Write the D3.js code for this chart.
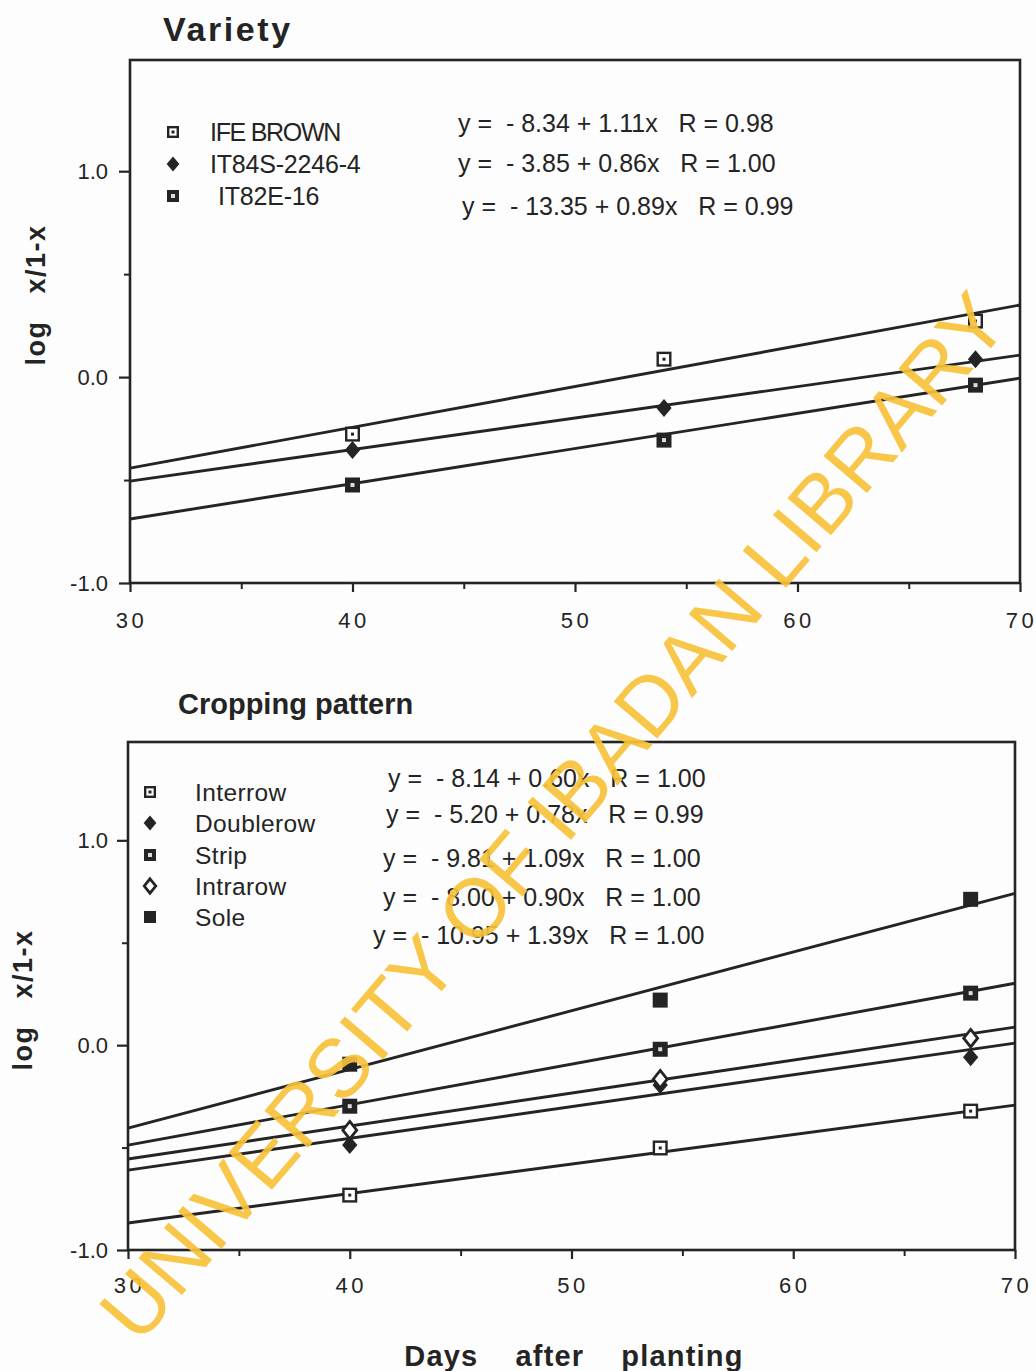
<!DOCTYPE html>
<html>
<head>
<meta charset="utf-8">
<script src="https://cdn.jsdelivr.net/npm/d3@7"></script>
<style>
  html, body { margin: 0; padding: 0; background: #fdfdfd; }
  svg { display: block; }
  text { font-family: "Liberation Sans", Arial, sans-serif; }
</style>
</head>
<body>
<svg id="chart" width="1036" height="1371"></svg>
<script>
// ---------- DATA ----------
const days = [40, 54, 68];
const fitX = [30, 70];
const xTicks = [30, 40, 50, 60, 70];
const xMinorTicks = [35, 45, 55, 65];
const yTicks = [-1.0, 0.0, 1.0];
const yMinorTicks = [-0.5, 0.5];

// Panel 1: Variety
const varietyNames = ["IFE BROWN", "IT84S-2246-4", "IT82E-16"];
const varietyMarkers = ["sqDot", "diamond", "sqHole"];
const ifeBrown = [-0.277, 0.087, 0.272];
const it84s = [-0.354, -0.150, 0.087];
const it82e = [-0.524, -0.306, -0.039];
const ifeBrownFit = [-0.442, 0.350];
const it84sFit = [-0.505, 0.107];
const it82eFit = [-0.689, -0.005];
const varietyEquations = [
  "y =  - 8.34 + 1.11x   R = 0.98",
  "y =  - 3.85 + 0.86x   R = 1.00",
  "y =  - 13.35 + 0.89x   R = 0.99"
];

// Panel 2: Cropping pattern
const croppingNames = ["Interrow", "Doublerow", "Strip", "Intrarow", "Sole"];
const croppingMarkers = ["sqDot", "diamond", "sqHole", "diamondOpen", "sqFill"];
const interrow = [-0.732, -0.502, -0.322];
const doublerow = [-0.488, -0.195, -0.059];
const strip = [-0.298, -0.020, 0.254];
const intrarow = [-0.415, -0.166, 0.034];
const sole = [-0.093, 0.220, 0.712];
const interrowFit = [-0.868, -0.293];
const doublerowFit = [-0.610, 0.010];
const stripFit = [-0.488, 0.302];
const intrarowFit = [-0.556, 0.088];
const soleFit = [-0.405, 0.741];
const croppingEquations = [
  "y =  - 8.14 + 0.60x   R = 1.00",
  "y =  - 5.20 + 0.78x   R = 0.99",
  "y =  - 9.81 + 1.09x   R = 1.00",
  "y =  - 8.00 + 0.90x   R = 1.00",
  "y =  - 10.95 + 1.39x   R = 1.00"
];

const yAxisTitle = "log   x/1-x";
const xAxisTitle = "Days    after    planting";
const watermark = "UNIVERSITY OF IBADAN LIBRARY";

// ---------- DRAW ----------
const svg = d3.select("#chart");
const INK = "#242424";
const FONT = "'Liberation Sans', Arial, sans-serif";

function marker(g, type, cx, cy, s) {
  const h = s / 2;
  if (type === "sqDot") {
    g.append("rect").attr("x", cx - h + 1.2).attr("y", cy - h + 1.2).attr("width", s - 2.4).attr("height", s - 2.4)
      .attr("fill", "#fff").attr("stroke", INK).attr("stroke-width", 2.4);
    g.append("rect").attr("x", cx - 1.5).attr("y", cy - 1.5).attr("width", 3).attr("height", 3).attr("fill", INK);
  } else if (type === "sqHole") {
    g.append("rect").attr("x", cx - h).attr("y", cy - h).attr("width", s).attr("height", s).attr("fill", INK);
    g.append("rect").attr("x", cx - 2).attr("y", cy - 2).attr("width", 4).attr("height", 4).attr("fill", "#ddd");
  } else if (type === "sqFill") {
    g.append("rect").attr("x", cx - h).attr("y", cy - h).attr("width", s).attr("height", s).attr("fill", INK);
  } else if (type === "diamond") {
    const r = h + 1.5;
    g.append("path").attr("d", `M${cx},${cy - r}L${cx + r * 0.85},${cy}L${cx},${cy + r}L${cx - r * 0.85},${cy}Z`).attr("fill", INK);
  } else if (type === "diamondOpen") {
    const r = h + 1.2;
    g.append("path").attr("d", `M${cx},${cy - r}L${cx + r * 0.8},${cy}L${cx},${cy + r}L${cx - r * 0.8},${cy}Z`)
      .attr("fill", "#fff").attr("stroke", INK).attr("stroke-width", 2.8);
  }
}

function panel(cfg) {
  const x = d3.scaleLinear().domain([30, 70]).range([cfg.left, cfg.right]);
  const y = d3.scaleLinear().domain(cfg.yDomain).range([cfg.bottom, cfg.top]);
  const g = svg.append("g");

  // frame
  g.append("rect").attr("x", cfg.left).attr("y", cfg.top)
    .attr("width", cfg.right - cfg.left).attr("height", cfg.bottom - cfg.top)
    .attr("fill", "none").attr("stroke", INK).attr("stroke-width", 2.6);

  // x axis
  const xa = g.append("g").attr("transform", `translate(0,${cfg.bottom})`)
    .call(d3.axisBottom(x).tickValues(xTicks).tickSize(9).tickPadding(cfg.xPad).tickFormat(d3.format("d")));
  xa.select(".domain").remove();
  xa.selectAll("line").attr("stroke", INK).attr("stroke-width", 2.2);
  xa.selectAll("text").attr("font-size", 22).attr("letter-spacing", 3.5).attr("fill", INK)
    .attr("dx", 1).style("font-family", FONT);
  const xm = g.append("g").attr("transform", `translate(0,${cfg.bottom})`)
    .call(d3.axisBottom(x).tickValues(xMinorTicks).tickSize(6).tickFormat(""));
  xm.select(".domain").remove();
  xm.selectAll("line").attr("stroke", INK).attr("stroke-width", 2);

  // y axis
  const ya = g.append("g").attr("transform", `translate(${cfg.left},0)`)
    .call(d3.axisLeft(y).tickValues(yTicks).tickSize(11).tickPadding(cfg.yPad).tickFormat(d => d.toFixed(1)));
  ya.select(".domain").remove();
  ya.selectAll("line").attr("stroke", INK).attr("stroke-width", 2.2);
  ya.selectAll("text").attr("font-size", 22).attr("fill", INK).style("font-family", FONT);
  const ym = g.append("g").attr("transform", `translate(${cfg.left},0)`)
    .call(d3.axisLeft(y).tickValues(yMinorTicks).tickSize(6).tickFormat(""));
  ym.select(".domain").remove();
  ym.selectAll("line").attr("stroke", INK).attr("stroke-width", 2);

  // fitted lines
  const line = d3.line().x((d, i) => x(fitX[i])).y(d => y(d));
  cfg.fits.forEach(f => {
    g.append("path").datum(f).attr("d", line).attr("fill", "none")
      .attr("stroke", INK).attr("stroke-width", 2.9);
  });

  // points
  cfg.series.forEach((s, si) => {
    s.forEach((v, i) => marker(g, cfg.markers[si], x(days[i]), y(v), cfg.msize));
  });

  // legend
  cfg.names.forEach((n, i) => {
    marker(g, cfg.markers[i], cfg.legX, cfg.legY[i], cfg.lsize);
    g.append("text").attr("x", cfg.legTextX[i]).attr("y", cfg.legY[i]).attr("dy", "0.36em")
      .attr("font-size", cfg.legFont).attr("letter-spacing", cfg.legSpacing[i]).attr("fill", INK).text(n);
  });

  // equations
  cfg.equations.forEach((e, i) => {
    g.append("text").attr("x", cfg.eqX[i]).attr("y", cfg.eqY[i]).attr("dy", "0.36em")
      .attr("font-size", cfg.eqFont).attr("fill", INK)
      .style("white-space", "pre").text(e);
  });

  // title
  g.append("text").attr("x", cfg.titleX).attr("y", cfg.titleY)
    .attr("font-size", cfg.titleFont).attr("font-weight", "bold")
    .attr("letter-spacing", cfg.titleSpacing).attr("fill", INK).text(cfg.title);

  // y title
  g.append("text").attr("transform", `translate(${cfg.yTitleX},${cfg.yTitleY}) rotate(-90)`)
    .attr("text-anchor", "middle").attr("font-size", 27).attr("font-weight", "bold")
    .attr("letter-spacing", 1.5).attr("fill", INK).style("white-space", "pre").text(yAxisTitle);
}

panel({
  left: 130, right: 1020, top: 60, bottom: 583, yDomain: [-1, 1.54],
  xPad: 20, yPad: 11,
  fits: [ifeBrownFit, it84sFit, it82eFit],
  series: [ifeBrown, it84s, it82e],
  markers: varietyMarkers, names: varietyNames,
  msize: 15, lsize: 12,
  legX: 173, legY: [132, 164, 196], legTextX: [210, 210, 218], legFont: 25, legSpacing: [-1.3, -0.2, -0.2],
  equations: varietyEquations, eqX: [458, 458, 462], eqY: [123, 163, 206], eqFont: 25,
  title: "Variety", titleX: 163, titleY: 41, titleFont: 34, titleSpacing: 2.6,
  yTitleX: 45, yTitleY: 295
});

panel({
  left: 128, right: 1015, top: 742, bottom: 1250, yDomain: [-1, 1.48],
  xPad: 18, yPad: 9,
  fits: [interrowFit, doublerowFit, stripFit, intrarowFit, soleFit],
  series: [interrow, doublerow, strip, intrarow, sole],
  markers: croppingMarkers, names: croppingNames,
  msize: 15, lsize: 12,
  legX: 150, legY: [792, 823, 855, 886, 917], legTextX: [195, 195, 195, 195, 195], legFont: 24.5,
  legSpacing: [0.4, 0.4, 0.4, 0.4, 0.4],
  equations: croppingEquations, eqX: [388, 386, 383, 383, 373], eqY: [778, 814, 858, 897, 935], eqFont: 25,
  title: "Cropping pattern", titleX: 178, titleY: 714, titleFont: 29, titleSpacing: 0,
  yTitleX: 32, yTitleY: 1000
});

// x-axis title
svg.append("text").attr("x", 574).attr("y", 1366).attr("text-anchor", "middle")
  .attr("font-size", 29).attr("font-weight", "bold").attr("letter-spacing", 1.2).attr("fill", INK)
  .style("white-space", "pre").text(xAxisTitle);

// watermark
svg.append("text").attr("transform", "translate(575,835) rotate(-49.5)")
  .attr("text-anchor", "middle").attr("font-size", 83)
  .attr("fill", "#f7c23a").attr("fill-opacity", 0.92)
  .text(watermark);
</script>
</body>
</html>
